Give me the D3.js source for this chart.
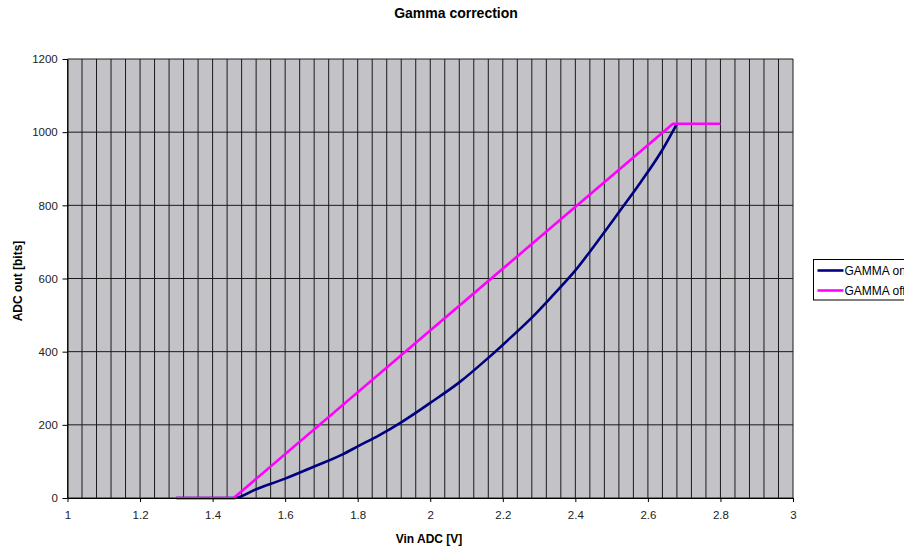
<!DOCTYPE html>
<html>
<head>
<meta charset="utf-8">
<script src="https://cdn.jsdelivr.net/npm/d3@7"></script>
<style>
  body { margin: 0; background: #fff; }
  svg { display: block; font-family: "Liberation Sans", Arial, sans-serif; }
</style>
</head>
<body>
<div id="chart"></div>
<script>
const width = 904;
const height = 548;
const margin = { top: 59, left: 67.5, bottom: 50, right: 111 };
const iwidth = width - margin.left - margin.right;
const iheight = height - margin.top - margin.bottom;

// GAMMA on
const vinOn = [1.30, 1.46, 1.52, 1.60, 1.68, 1.76, 1.80, 1.86, 1.92, 2.00, 2.08,
  2.16, 2.22, 2.28, 2.34, 2.40, 2.46, 2.52, 2.58, 2.64, 2.68];
const adcOn = [0, 0, 24, 53, 86, 120, 141, 172, 207, 260, 316,
  383, 437, 493, 556, 622, 700, 781, 863, 952, 1023];

// GAMMA off
const vinOff = [1.30, 1.458, 2.669, 2.80];
const adcOff = [0, 0, 1023, 1023];

const seriesNames = ["GAMMA on", "GAMMA off"];
const seriesColors = ["#000080", "#ff00ff"];

const xTicks = [1, 1.2, 1.4, 1.6, 1.8, 2, 2.2, 2.4, 2.6, 2.8, 3];
const yTicks = [0, 200, 400, 600, 800, 1000, 1200];

const svg = d3.select("#chart").append("svg")
  .attr("width", width)
  .attr("height", height);

const g = svg.append("g")
  .attr("transform", `translate(${margin.left},${margin.top})`);

const x = d3.scaleLinear().domain([1, 3]).range([0, iwidth]);
const y = d3.scaleLinear().domain([0, 1200]).range([iheight, 0]);

g.append("rect")
  .attr("width", iwidth)
  .attr("height", iheight)
  .attr("fill", "#c3c2c7");

// minor vertical grid every 0.04 V
const xGrid = d3.range(0, 51).map((i) => 1 + i * 0.04);
g.append("g").selectAll("line").data(xGrid).enter().append("line")
  .attr("x1", (d) => x(d)).attr("x2", (d) => x(d))
  .attr("y1", 0).attr("y2", iheight)
  .attr("stroke", "#1a1a1a")
  .attr("stroke-width", 1);

g.append("g").selectAll("line").data(yTicks).enter().append("line")
  .attr("x1", 0).attr("x2", iwidth)
  .attr("y1", (d) => y(d)).attr("y2", (d) => y(d))
  .attr("stroke", "#1a1a1a")
  .attr("stroke-width", 1);

const series = [
  { pts: d3.zip(vinOn, adcOn), curve: d3.curveMonotoneX },
  { pts: d3.zip(vinOff, adcOff), curve: d3.curveLinear }
];

series.forEach((s, i) => {
  const line = d3.line()
    .x((d) => x(d[0]))
    .y((d) => y(d[1]))
    .curve(s.curve);
  g.append("path")
    .datum(s.pts)
    .attr("fill", "none")
    .attr("stroke", seriesColors[i])
    .attr("stroke-width", 2.6)
    .attr("stroke-linejoin", "round")
    .attr("d", line);
});

const xAxis = g.append("g")
  .attr("transform", `translate(0,${iheight})`)
  .call(d3.axisBottom(x).tickValues(xTicks).tickSize(4).tickSizeOuter(0).tickFormat(d3.format("")));
xAxis.select(".domain").attr("stroke", "#000");
xAxis.selectAll("text").attr("font-size", 11.5).attr("fill", "#222").attr("dy", "1.2em");

const yAxis = g.append("g")
  .call(d3.axisLeft(y).tickValues(yTicks).tickSize(5).tickSizeOuter(0).tickFormat(d3.format("d")));
yAxis.select(".domain").attr("stroke", "#000");
yAxis.selectAll("text").attr("font-size", 11.5).attr("fill", "#222").attr("dx", "-0.15em");

svg.append("text")
  .attr("x", 456).attr("y", 18)
  .attr("text-anchor", "middle")
  .attr("font-size", 14).attr("font-weight", "bold")
  .text("Gamma correction");

svg.append("text")
  .attr("x", 429).attr("y", 543)
  .attr("text-anchor", "middle")
  .attr("font-size", 12).attr("font-weight", "bold")
  .text("Vin ADC [V]");

svg.append("text")
  .attr("transform", "translate(22,281) rotate(-90)")
  .attr("text-anchor", "middle")
  .attr("font-size", 12).attr("font-weight", "bold")
  .text("ADC out [bits]");

// legend (cut off by the right edge, as in the original)
const legend = svg.append("g").attr("transform", "translate(813.5,259.5)");
legend.append("rect")
  .attr("width", 120).attr("height", 40.5)
  .attr("fill", "#fff").attr("stroke", "#000");
seriesNames.forEach((name, i) => {
  const ly = 11 + i * 20;
  legend.append("line")
    .attr("x1", 4).attr("x2", 30)
    .attr("y1", ly).attr("y2", ly)
    .attr("stroke", seriesColors[i]).attr("stroke-width", 2.6);
  legend.append("text")
    .attr("x", 31).attr("y", ly + 4)
    .attr("font-size", 12).attr("fill", "#000")
    .text(name);
});
</script>
</body>
</html>
